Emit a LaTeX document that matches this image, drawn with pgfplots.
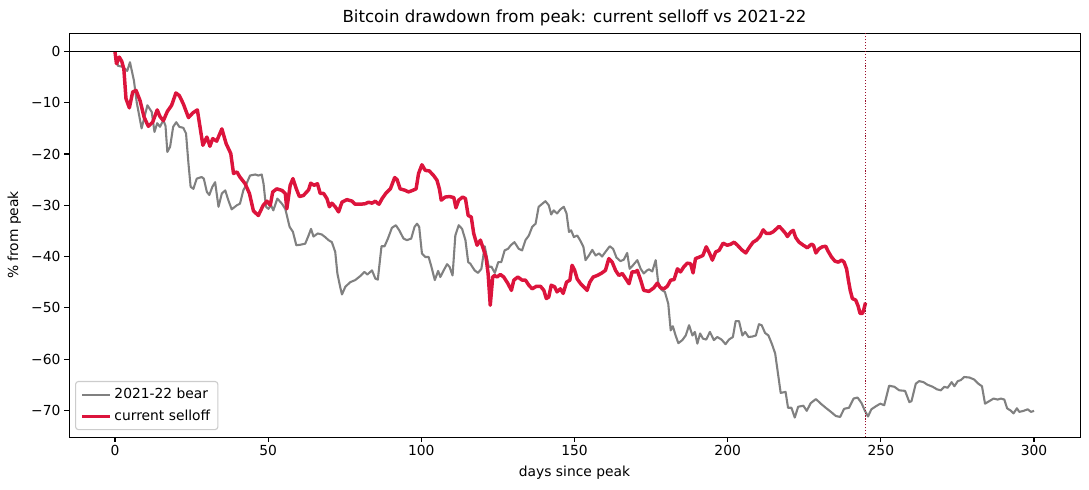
\documentclass[border=0pt]{standalone}
\usepackage{fontspec}
\setmainfont{DejaVu Sans}
\usepackage{pgfplots}
\pgfplotsset{compat=1.18}
\definecolor{bear}{HTML}{808080}
\definecolor{crimson}{HTML}{DC143C}
\definecolor{legendedge}{HTML}{CCCCCC}
\begin{document}
\begin{tikzpicture}
\begin{axis}[
  at={(0,0)}, anchor=south west,
  scale only axis,
  width=727.92bp, height=290.88bp,
  xmin=-15, xmax=315, ymin=-75.2, ymax=3.6,
  xtick={0,50,100,150,200,250,300},
  ytick={-70,-60,-50,-40,-30,-20,-10,0},
  yticklabels={−70,−60,−50,−40,−30,−20,−10,0},
  xtick pos=bottom, ytick pos=left,
  tick align=outside,
  major tick length=3.5bp,
  tick style={black, line width=0.8bp},
  axis line style={line width=0.7bp},
  /pgf/number format/assume math mode=true,
  ticklabel style={font=\fontsize{10}{12}\selectfont},
  xticklabel style={inner sep=1bp, yshift=-1.5bp},
  yticklabel style={inner sep=1bp, xshift=-1.5bp},
  every axis title shift=0pt,
  title={Bitcoin drawdown from peak: current selloff vs 2021-22},
  title style={font=\fontsize{12}{14}\selectfont, at={(axis description cs:0.5,1.037)}, anchor=center, yshift=0pt},
  xlabel={days since peak},
  xlabel style={font=\fontsize{10}{12}\selectfont, at={(axis description cs:0.5,-0.088)}, anchor=center},
  ylabel={\% from peak},
  ylabel style={font=\fontsize{10}{12}\selectfont, at={(axis description cs:-0.054,0.5)}, anchor=center, rotate=0},
  legend cell align=left,
  legend style={at={(axis description cs:0.006,0.017)}, anchor=south west,
    draw=legendedge, line width=0.8bp, rounded corners=2bp, fill=white, fill opacity=0.8, text opacity=1,
    font=\fontsize{10}{12}\selectfont, inner xsep=3.5bp, inner ysep=3bp, row sep=2.5bp},
  legend image code/.code={\draw[#1] (0bp,0bp) -- (20bp,0bp);},
]
% 2021-22 bear market drawdown (%)
\addplot[bear, line width=1.5bp, line join=round] coordinates {
(0,0) (1,-2.8) (2.5,-3) (4,-3.8) (4.9,-2.1) (6.2,-5.7) (7.1,-9.9) (8.7,-15)
(10.6,-10.5) (12,-11.8) (12.9,-15.7) (13.8,-14) (14.7,-14.7) (15.8,-13.4) (16.5,-14.5)
(17.1,-19.6) (18,-18.6) (19,-14.7) (20,-13.8) (21,-14.7) (22.3,-14.9) (23.2,-16)
(24,-21.9) (24.7,-26.4) (25.6,-26.8) (26.7,-24.8) (28.3,-24.5) (29,-24.8) (30,-27.4)
(30.8,-28) (31.8,-26.4) (32.7,-25.5) (33.8,-30.3) (34.9,-27.7) (36,-27.1) (37,-29)
(38.1,-30.8) (39.8,-30) (40.8,-29.7) (41.9,-27.1) (42.5,-26.4) (44.1,-24.2) (45.8,-24)
(46.8,-24.2) (47.9,-24) (48.5,-25.8) (49.3,-30.3) (50.1,-30.7) (50.9,-30) (51.7,-31)
(53,-28.7) (54.5,-29.7) (55.6,-30.7) (57,-34.2) (58.1,-35.2) (59.2,-37.8) (60.5,-37.7)
(62.1,-37.5) (63.2,-35.9) (64,-34.6) (64.8,-36.1) (66.2,-35.5) (67.5,-35.7) (68.6,-36.2)
(69.7,-36.8) (70.8,-37.2) (71.9,-39.1) (72.6,-43.3) (73.5,-45.9) (74.1,-47.4) (75.2,-45.9)
(76.8,-45) (78.4,-44.6) (80.1,-43.8) (81.4,-43) (82.4,-43.5) (83.9,-42.7) (85,-44.3)
(85.8,-44.5) (87,-38) (88,-38) (89.1,-36.5) (90.4,-34.4) (91.7,-33.9) (92.8,-34.9)
(94.2,-36.5) (95.3,-36.8) (96.7,-36.5) (97.8,-34.2) (98.6,-33.6) (99.3,-34.2) (100.2,-39.4)
(101.3,-40.1) (102.4,-40.1) (103.3,-42) (104.4,-44.6) (105.5,-42.8) (106.2,-44) (107.3,-42.7)
(108.4,-41.5) (109.2,-42) (110.2,-43.7) (111.1,-35.9) (112.2,-33.9) (113.3,-34.6) (114.4,-36.8)
(115.3,-41.1) (116,-41.4) (117.4,-42.7) (118.5,-43.2) (119.6,-42.4) (120.7,-38) (122,-42)
(122.9,-42) (124,-43.2) (125.1,-41.1) (126.1,-41.1) (127.2,-38.8) (128.3,-38.5) (129.2,-37.8)
(130.4,-37.2) (131.8,-38.5) (132.9,-38.8) (134,-36.8) (135.1,-35.9) (136.2,-34.2) (137.3,-33.6)
(138.3,-30.3) (139.5,-29.7) (140.5,-29.2) (141.6,-30) (142.4,-31.8) (143.2,-31) (144.3,-31.6)
(145.4,-30.8) (146.5,-30.3) (147.4,-31.6) (148.2,-35.2) (148.9,-34.9) (149.8,-36.2) (150.9,-35.9)
(151.8,-36.8) (152.9,-38.1) (153.6,-40.7) (154.7,-39.8) (155.8,-38.7) (156.9,-39.8) (158,-39.4)
(159,-40) (160.1,-39.1) (161.5,-38) (162.6,-38.5) (163.7,-40.2) (165,-40.9) (166.1,-40.6)
(167.2,-39.3) (168,-42.4) (169.1,-41.7) (170.5,-40.7) (171.6,-42.4) (172.6,-43.3) (173.7,-42.7)
(174.3,-42.5) (175.4,-42.9) (176.5,-40.7) (177.3,-45) (178.4,-46.5) (179.5,-46.9) (180.6,-49.2)
(181.4,-54.4) (182.1,-53.6) (183,-55.4) (183.9,-56.9) (185.2,-56.3) (186.3,-55.4) (187.4,-53.4)
(188.5,-55.4) (189.3,-54.7) (190.1,-57) (191,-55) (191.9,-56) (193,-56.2) (194.2,-54.7)
(195.5,-56.3) (196.6,-55.7) (198,-56.2) (199.3,-57.1) (200.4,-56.2) (201.7,-55.7) (202.6,-52.6)
(203.7,-52.6) (204.8,-55.4) (205.7,-54.7) (206.8,-55.7) (208.1,-55.6) (209.2,-55.4) (210.2,-53.2)
(211.1,-53.4) (212.2,-54.9) (213.3,-55.4) (214.4,-57) (215.5,-58.9) (216.2,-61.9) (217.3,-66.6)
(218.9,-66.4) (219.7,-69.5) (220.8,-69.5) (221.9,-71.4) (223,-69.3) (224.7,-69.1) (225.8,-70.1)
(227.1,-68.6) (228.8,-67.8) (230.4,-68.7) (232,-69.5) (233.7,-70.3) (235.3,-71.1) (236.7,-71.3)
(238,-69.7) (239.6,-69.5) (241.1,-67.7) (242.4,-67.5) (243.7,-68.6) (244.8,-70.1) (245.8,-71.2)
(246.9,-69.8) (248.4,-69.2) (249.8,-68.7) (251.1,-69) (252.7,-65.2) (254.4,-65.4) (256,-66.1)
(257.9,-66.2) (259.3,-68.4) (260,-68.2) (261.4,-64.8) (262.5,-64.3) (263.9,-64.5) (265.2,-65)
(266.9,-65.4) (268.3,-65.9) (269.6,-66.1) (270.7,-65.4) (271.8,-65.6) (273.1,-64.5) (274,-65.3)
(275.1,-64.3) (276.1,-64.1) (277.2,-63.5) (278.9,-63.6) (280.5,-64) (281.8,-64.8) (283,-65.3)
(284,-68.7) (285.4,-68.2) (286.8,-67.7) (288.1,-67.9) (289.2,-67.7) (290.3,-67.9) (291.2,-69.6)
(292.5,-70.1) (293.3,-70.6) (294.4,-69.6) (295.2,-70.3) (296.6,-70.1) (297.9,-69.8) (299,-70.3)
(300,-70.1)
};
\addlegendentry{2021-22 bear}
% current selloff drawdown (%)
\addplot[crimson, line width=2.5bp, line join=round] coordinates {
(0,0) (0.5,-2.4) (1.4,-1.1) (2.2,-1.9) (2.9,-3.4) (3.6,-9.2) (4.7,-11) (5.8,-7.9)
(6.9,-7.6) (8.2,-9.6) (9.5,-12.8) (10.9,-14.6) (12.3,-13.8) (13.8,-11.4) (14.7,-12.7)
(15.8,-13.5) (17.1,-11.7) (18.5,-10.5) (19.9,-8.1) (21,-8.6) (22.3,-10.2) (24,-12.9)
(25.4,-12) (26.9,-11.4) (28.7,-18.3) (30,-16.7) (31,-18.5) (31.9,-17) (33.2,-17.5)
(34.9,-15.1) (36.3,-18) (37.8,-19.9) (38.7,-23.8) (39.8,-23.5) (40.8,-24.5) (42.5,-25.8)
(43.9,-27.7) (45.2,-31.1) (46.8,-32) (48.4,-30) (49.6,-29.2) (50.7,-30) (51.5,-27.4)
(52.8,-26.8) (54.5,-27.1) (55.6,-27.7) (56.1,-30.7) (57.2,-26.1) (58.1,-24.8) (59.2,-26.8)
(60.2,-28.3) (61.5,-28.1) (63.2,-27) (63.9,-25.7) (65,-26.1) (66.1,-25.8) (67,-27.7)
(68.1,-27.7) (69.2,-28.7) (70,-30.3) (70.8,-29.6) (71.9,-30.3) (73,-31.3) (74.1,-29.4)
(75.7,-28.9) (77.4,-29.2) (78.4,-29.8) (80.1,-29.8) (81.7,-29.7) (82.8,-29.4) (83.9,-29.6)
(85,-29.2) (85.7,-29.6) (86.2,-29.8) (87.2,-28.7) (88.5,-27.6) (89.9,-26.8) (91.3,-24.6)
(92.1,-25) (93.1,-26.8) (94.8,-27.1) (95.8,-27.4) (97.2,-27.1) (98.3,-26.8) (99.1,-23.8)
(100.2,-22.1) (101.3,-23.2) (102.6,-23.3) (104,-24.2) (105.1,-25.1) (105.9,-26.8) (106.5,-29)
(107.8,-28.4) (109.2,-28.3) (110.6,-28.5) (111.3,-30.5) (112.2,-29) (113.5,-28.4) (114.4,-28.7)
(115.3,-32) (116.3,-32.3) (117.1,-35.5) (118.2,-37.8) (119.3,-36.8) (120.4,-38.8) (121.1,-40.1)
(121.8,-43.3) (122.5,-49.5) (123.3,-44) (123.9,-43.7) (124.7,-44) (125.8,-43.5) (126.9,-44)
(128.3,-45.3) (129.4,-46.6) (130.2,-44.6) (131.5,-44) (132.9,-44.6) (134,-44.6) (135.1,-45.6)
(136.2,-46.3) (137.6,-45.8) (138.9,-45.8) (140,-46.6) (140.8,-48.2) (141.6,-47.9) (142.4,-45.6)
(143.5,-45.9) (144.3,-46.9) (145.4,-46.3) (146.3,-47.2) (147.4,-45) (148.5,-44.6) (149.2,-41.7)
(150,-42.6) (150.9,-44.4) (152,-45.3) (153,-45.9) (154.1,-46.6) (155,-45) (156.1,-44)
(157.4,-43.7) (158.7,-43.3) (160.1,-42.7) (161.2,-40.4) (162.3,-41.1) (163.4,-42.7) (164.5,-43.7)
(165.6,-43.3) (166.7,-44.3) (167.8,-45.3) (168.8,-43) (169.9,-43) (170.5,-42.7) (171.6,-44.6)
(172.6,-46.6) (174.3,-46.8) (175.9,-46.1) (177,-45.2) (178.1,-46.1) (179.2,-46.3) (180.3,-45.8)
(181.4,-44.6) (182.5,-44.5) (183.6,-42.4) (184.6,-43) (185.7,-42) (186.8,-41.3) (187.9,-41.4)
(188.7,-43.2) (189.5,-40.4) (190.8,-40.1) (191.9,-39.8) (193,-38.1) (194.1,-39.4) (195,-40.7)
(196.1,-39.1) (197.2,-38.8) (198.5,-37.4) (199.9,-37.8) (201,-37.6) (202.1,-37.2) (203.2,-37.8)
(204.6,-38.7) (205.9,-39.3) (207.2,-38.1) (208.3,-37.2) (209.4,-36.8) (210.5,-36.1) (211.6,-34.8)
(212.6,-35.5) (213.7,-35.5) (214.8,-35.2) (215.9,-34.6) (216.8,-34.1) (217.9,-34.8) (218.9,-35.5)
(219.5,-36.1) (220.6,-35.2) (221.4,-34.9) (222.2,-36.3) (223.3,-37.2) (224.7,-37.8) (226,-38.3)
(227.3,-37.6) (228,-37.8) (228.8,-39.3) (229.8,-38.5) (230.9,-38.1) (232,-38) (232.9,-39.1)
(233.9,-40.1) (235,-40.9) (236.1,-41.1) (237.2,-40.7) (238,-41.1) (238.8,-42.4) (239.4,-44.6)
(240,-46.6) (240.7,-48.2) (241.8,-48.5) (242.6,-49.7) (243.2,-51.1) (244,-51.1) (244.5,-50.2)
(245,-49)
};
\addlegendentry{current selloff}
% reference lines: the peak level and today
\addplot[black, line width=0.8bp, forget plot] coordinates {(-15,0) (315,0)};
\addplot[crimson!70!black, line width=0.8bp, dash pattern=on 0.8bp off 1.3bp, forget plot] coordinates {(245,-75.2) (245,3.6)};
\end{axis}
\pgfresetboundingbox
\path[use as bounding box] (-49.68bp,-38.16bp) rectangle (734.4bp,314.64bp);
\end{tikzpicture}
\end{document}
